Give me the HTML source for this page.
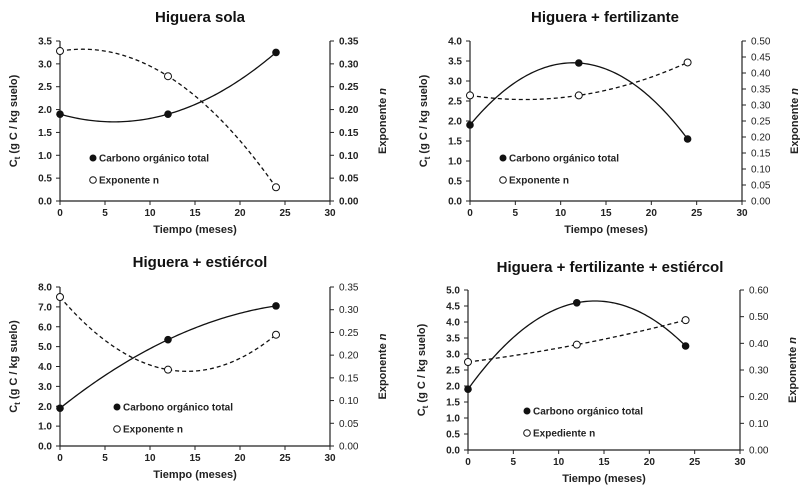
<!DOCTYPE html>
<html><head><meta charset="utf-8"><style>
html,body{margin:0;padding:0;background:#fff;width:800px;height:498px;overflow:hidden}
svg{display:block;font-family:"Liberation Sans",sans-serif}
</style></head><body>
<svg id="c" width="800" height="498" viewBox="0 0 800 498"></svg>
<script>
const months=[0,12,24];
const xTicks=[0,5,10,15,20,25,30];
const titles=["Higuera sola","Higuera + fertilizante","Higuera + estiércol","Higuera + fertilizante + estiércol"];
const carbon1=[1.9,1.9,3.25];
const expo1=[0.328,0.273,0.03];
const carbon2=[1.9,3.45,1.55];
const expo2=[0.33,0.33,0.433];
const carbon3=[1.9,5.35,7.05];
const expo3=[0.328,0.168,0.245];
const carbon4=[1.9,4.6,3.25];
const expo4=[0.33,0.395,0.487];
const leftTicks1=[0,0.5,1,1.5,2,2.5,3,3.5];
const rightTicks1=[0,0.05,0.1,0.15,0.2,0.25,0.3,0.35];
const leftTicks2=[0,0.5,1,1.5,2,2.5,3,3.5,4];
const rightTicks2=[0,0.05,0.1,0.15,0.2,0.25,0.3,0.35,0.4,0.45,0.5];
const leftTicks3=[0,1,2,3,4,5,6,7,8];
const rightTicks3=[0,0.05,0.1,0.15,0.2,0.25,0.3,0.35];
const leftTicks4=[0,0.5,1,1.5,2,2.5,3,3.5,4,4.5,5];
const rightTicks4=[0,0.1,0.2,0.3,0.4,0.5,0.6];
const legendLabels=[["Carbono orgánico total","Exponente n"],["Carbono orgánico total","Exponente n"],["Carbono orgánico total","Exponente n"],["Carbono orgánico total","Expediente n"]];

const panels=[
 {L:60,R:330,T:41,B:201,ty:22,tx:200,c:carbon1,n:expo1,lt:leftTicks1,rt:rightTicks1,ld:1,rd:2,lgx:93,lgy:158},
 {L:470,R:742,T:41,B:201,ty:22,tx:605,c:carbon2,n:expo2,lt:leftTicks2,rt:rightTicks2,ld:1,rd:2,lgx:503,lgy:158},
 {L:60,R:330,T:287,B:446,ty:267,tx:200,c:carbon3,n:expo3,lt:leftTicks3,rt:rightTicks3,ld:1,rd:2,lgx:117,lgy:407},
 {L:468,R:740,T:290,B:450,ty:272,tx:610,c:carbon4,n:expo4,lt:leftTicks4,rt:rightTicks4,ld:1,rd:2,lgx:527,lgy:411}
];
const svg=document.getElementById('c');
const NS='http://www.w3.org/2000/svg';
function mk(tag,attrs,parent,text){const e=document.createElementNS(NS,tag);for(const k in attrs)e.setAttribute(k,attrs[k]);if(text!==undefined)e.textContent=text;(parent||svg).appendChild(e);return e;}
function quad(xs,ys){const [x0,x1,x2]=xs,[y0,y1,y2]=ys;return x=>y0*(x-x1)*(x-x2)/((x0-x1)*(x0-x2))+y1*(x-x0)*(x-x2)/((x1-x0)*(x1-x2))+y2*(x-x0)*(x-x1)/((x2-x0)*(x2-x1));}
panels.forEach((p,i)=>{
 const g=mk('g',{});
 
 
 const lmax=p.lt[p.lt.length-1],rmax=p.rt[p.rt.length-1];
 const xs=v=>p.L+(v-xTicks[0])/(xTicks[xTicks.length-1]-xTicks[0])*(p.R-p.L);
 const yl=v=>p.B-v/lmax*(p.B-p.T);
 const yr=v=>p.B-v/rmax*(p.B-p.T);
 const t=mk('text',{x:p.tx,y:p.ty,'text-anchor':'middle','font-size':15,'font-weight':'bold',fill:'#111'},g,titles[i]);
 
 
 const ax=mk('path',{d:`M${p.L},${p.T}V${p.B}H${p.R}V${p.T}`,stroke:'#222','stroke-width':1.2,fill:'none'},g);
 
 
 xTicks.forEach(v=>{const x=xs(v);mk('line',{x1:x,x2:x,y1:p.B,y2:p.B+4,stroke:'#222'},g);
  const tl=mk('text',{x:x,y:p.B+15,'text-anchor':'middle','font-size':10,'font-weight':'bold',fill:'#222'},g,v);
  
  });
 p.lt.forEach(v=>{const y=yl(v);mk('line',{x1:p.L-4,x2:p.L,y1:y,y2:y,stroke:'#222'},g);
  const tl=mk('text',{x:p.L-8,y:y+3.5,'text-anchor':'end','font-size':10,'font-weight':'bold',fill:'#222'},g,v.toFixed(p.ld));
  
  });
 p.rt.forEach(v=>{const y=yr(v);mk('line',{x1:p.R,x2:p.R+4,y1:y,y2:y,stroke:'#222'},g);
  const tl=mk('text',{x:p.R+9,y:y+3.5,'font-size':10,fill:'#222','font-weight':i==0?'bold':'normal'},g,v.toFixed(p.rd));
  
  });
 const xt=mk('text',{x:(p.L+p.R)/2,y:p.B+32,'text-anchor':'middle','font-size':11,'font-weight':'bold',fill:'#222'},g,'Tiempo (meses)');
 
 
 const cy=(p.T+p.B)/2;
 const yt=mk('text',{transform:`translate(${p.L-43},${cy}) rotate(-90)`,'text-anchor':'middle','font-size':11,'font-weight':'bold',fill:'#222'},g);
 
 
 mk('tspan',{},yt,'C');mk('tspan',{'font-size':8,dy:3},yt,'t');mk('tspan',{dy:-3},yt,' (g C / kg suelo)');
 const rtt=mk('text',{transform:`translate(${p.R+56},${cy}) rotate(-90)`,'text-anchor':'middle','font-size':11,'font-weight':'bold',fill:'#222'},g);
 
 
 mk('tspan',{},rtt,'Exponente ');mk('tspan',{'font-style':'italic'},rtt,'n');
 const fc=quad(months,p.c),fn=quad(months,p.n);
 let dc='',dn='';
 for(let k=0;k<=96;k++){const x=months[0]+(months[2]-months[0])*k/96;dc+=(k?'L':'M')+xs(x).toFixed(2)+','+yl(fc(x)).toFixed(2);dn+=(k?'L':'M')+xs(x).toFixed(2)+','+yr(fn(x)).toFixed(2);}
 const lc=mk('path',{d:dc,stroke:'#111','stroke-width':1.3,fill:'none'},g);
 
 
 const ln=mk('path',{d:dn,stroke:'#111','stroke-width':1.3,fill:'none','stroke-dasharray':'4,3'},g);
 
 
 months.forEach((m,k)=>{
  const a=mk('circle',{cx:xs(m),cy:yl(p.c[k]),r:3.8,fill:'#111'},g);
  
  
  const b=mk('circle',{cx:xs(m),cy:yr(p.n[k]),r:3.5,fill:'#fff',stroke:'#111','stroke-width':1},g);
  
  
 });
 const lg=mk('g',{},g);
 
 
 mk('circle',{cx:p.lgx,cy:p.lgy,r:3.5,fill:'#111'},lg);
 mk('text',{x:p.lgx+6,y:p.lgy+3.5,'font-size':10,'font-weight':'bold',fill:'#222'},lg,legendLabels[i][0]);
 mk('circle',{cx:p.lgx,cy:p.lgy+22,r:3.3,fill:'#fff',stroke:'#111'},lg);
 mk('text',{x:p.lgx+6,y:p.lgy+25.5,'font-size':10,'font-weight':'bold',fill:'#222'},lg,legendLabels[i][1]);
});
</script>
</body></html>
